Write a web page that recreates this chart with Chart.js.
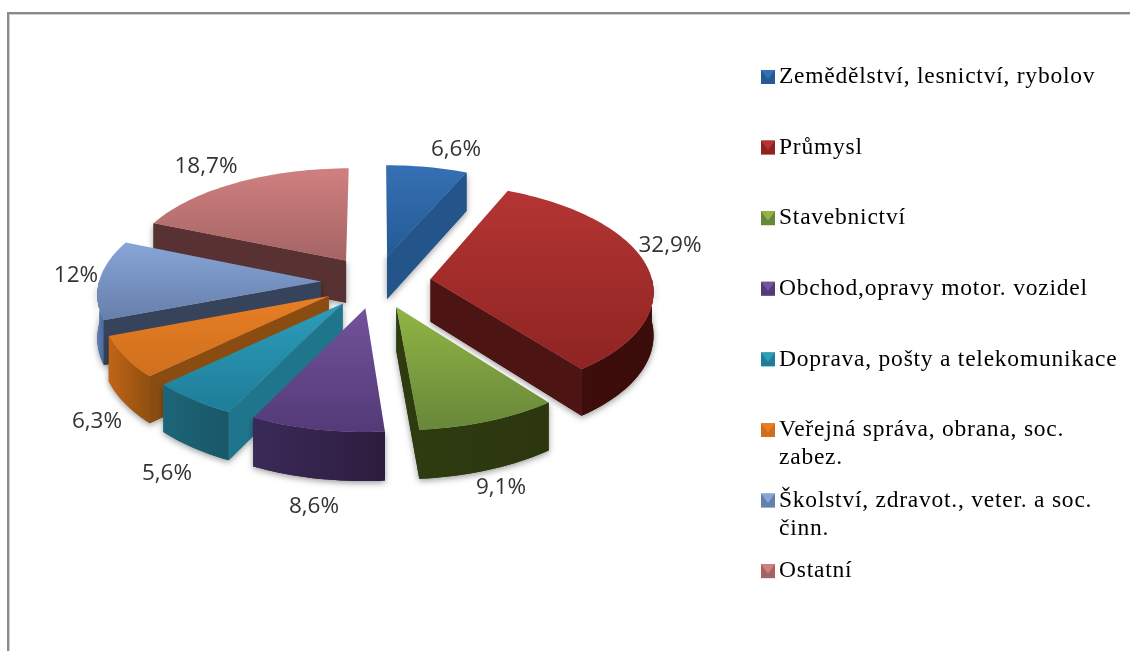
<!DOCTYPE html>
<html><head><meta charset="utf-8">
<script src="https://cdn.jsdelivr.net/npm/chart.js@4/dist/chart.umd.js"></script>
<style>
html,body{margin:0;padding:0;background:#fff;overflow:hidden}
#wrap{position:relative;width:1130px;height:651px}
#f1{position:absolute;left:7px;top:12px;right:0;bottom:0;border-left:2px solid #8a8a8a;border-top:2px solid #8a8a8a}
#f2{position:absolute;left:9px;top:14px;right:0;bottom:0;border-left:1px solid #cfcfcf;border-top:1px solid #cfcfcf}
canvas{position:absolute;left:0;top:0}
</style></head><body>
<div id="wrap"><div id="f1"></div><div id="f2"></div><canvas id="c" width="1130" height="651"></canvas></div>
<script>
const categories = [
  "Zemědělství, lesnictví, rybolov",
  "Průmysl",
  "Stavebnictví",
  "Obchod,opravy motor. vozidel",
  "Doprava, pošty a telekomunikace",
  ["Veřejná správa, obrana, soc.", "zabez."],
  ["Školství, zdravot., veter. a soc.", "činn."],
  "Ostatní"
];
const shares = [6.6, 32.9, 9.1, 8.6, 5.6, 6.3, 12, 18.7];

// styles
const topLight = ["#3570b4","#b43533","#90b544","#72529a","#2c9dbb","#e87f24","#87a5d8","#d08080"];
const topDark  = ["#255a94","#8e2422","#68873a","#543a78","#1f7d98","#cf6f1e","#667fab","#a56464"];
const wallLeft = ["#1f4d80","#3c0d0b","#2e3a10","#3a2a58","#1c6679","#c26416","#5a80b8","#5a3434"];
const wallRight= ["#1f4d80","#3a0c0a","#2c3710","#2e1c3e","#1a5668","#8f5010","#4a6a9c","#5a3434"];
const cutColor = ["#23548a","#4c1412","#2e3a10","#2e1c3e","#1f758c","#8a4c10","#37435a","#583232"];
const labelAnchors = [[456,150],[670,246],[501,488],[314,507],[167,474],[97,422],[76,276],[206,167]];

// projection settings
const EXPLODE = 0.248, PERSP = 0.1, TILT = 0.4757, DEPTH = 43;

function fmt(v){ return String(v).replace('.', ',') + '%'; }

const pie3d = {
  id: 'pie3d',
  beforeDatasetsDraw(chart){
    const ctx = chart.ctx, arcs = chart.getDatasetMeta(0).data;
    const order = arcs.map((a,i)=>i).sort((p,q)=>
      Math.sin((arcs[p].startAngle+arcs[p].endAngle)/2) - Math.sin((arcs[q].startAngle+arcs[q].endAngle)/2));
    for (const i of order) {
      const a = arcs[i], R = a.outerRadius, m = (a.startAngle+a.endAngle)/2;
      const eu = EXPLODE*Math.cos(m), ev = EXPLODE*Math.sin(m);
      const P = (u,v,down)=>{ const k = 1/(1-PERSP*v);
        return [a.x + R*u*k, a.y + R*TILT*v*k + (down?DEPTH*k:0)]; };
      const onArc = (t,down)=>P(eu+Math.cos(t), ev+Math.sin(t), down);
      const apex = d=>P(eu,ev,d);
      const N = Math.max(4, Math.ceil((a.endAngle-a.startAngle)/0.03));
      const ts = []; for (let n=0;n<=N;n++) ts.push(a.startAngle+(a.endAngle-a.startAngle)*n/N);
      const poly = pts=>{ ctx.beginPath(); pts.forEach((p,n)=> n?ctx.lineTo(p[0],p[1]):ctx.moveTo(p[0],p[1])); ctx.closePath(); };
      const topPts = [apex(false), ...ts.map(t=>onArc(t,false))];
      const front = ts.filter(t=>Math.sin(t)>=-0.02);
      const wallPts = front.length>1 ? [...front.map(t=>onArc(t,false)), ...front.slice().reverse().map(t=>onArc(t,true))] : null;
      const cuts = [];
      if (Math.cos(a.startAngle)<0) cuts.push([apex(false),onArc(a.startAngle,false),onArc(a.startAngle,true),apex(true)]);
      if (Math.cos(a.endAngle)>0)   cuts.push([apex(false),onArc(a.endAngle,false),onArc(a.endAngle,true),apex(true)]);

      // soft shadow
      ctx.save();
      ctx.shadowColor='rgba(0,0,0,0.4)'; ctx.shadowBlur=6; ctx.shadowOffsetY=2; ctx.fillStyle=cutColor[i];
      if (wallPts){ poly(wallPts); ctx.fill(); }
      cuts.forEach(c=>{ poly(c); ctx.fill(); });
      ctx.restore();

      if (wallPts){
        const xs = wallPts.map(p=>p[0]);
        const g = ctx.createLinearGradient(Math.min(...xs),0,Math.max(...xs),0);
        g.addColorStop(0,wallLeft[i]); g.addColorStop(1,wallRight[i]);
        ctx.fillStyle=g; poly(wallPts); ctx.fill();
      }
      ctx.fillStyle=cutColor[i];
      cuts.forEach(c=>{ poly(c); ctx.fill(); });

      const ys = topPts.map(p=>p[1]);
      const g2 = ctx.createLinearGradient(0,Math.min(...ys),0,Math.max(...ys));
      g2.addColorStop(0,topLight[i]); g2.addColorStop(1,topDark[i]);
      ctx.fillStyle=g2; poly(topPts); ctx.fill();
    }
    return false;
  },
  afterDraw(chart){
    const ctx = chart.ctx;
    ctx.save();
    // data labels
    ctx.font = '22.5px "Open Sans"'; ctx.fillStyle='#333'; ctx.textAlign='center'; ctx.textBaseline='middle';
    shares.forEach((v,i)=>ctx.fillText(fmt(v), labelAnchors[i][0], labelAnchors[i][1]));
    // legend
    const lx=761, ly=77, step=70.6, size=14;
    ctx.textAlign='left'; ctx.font='23.5px "Liberation Serif"'; ctx.letterSpacing='0.77px'; ctx.fillStyle='#000';
    categories.forEach((c,i)=>{
      const y = ly+step*i;
      ctx.fillStyle=topDark[i]; ctx.fillRect(lx,y-size/2,size,size);
      ctx.fillStyle=topLight[i]; ctx.beginPath(); ctx.moveTo(lx,y-size/2); ctx.lineTo(lx+size,y-size/2); ctx.lineTo(lx+size/2,y+size/6); ctx.closePath(); ctx.fill();
      ctx.fillStyle='#000';
      (Array.isArray(c)?c:[c]).forEach((t,n)=>ctx.fillText(t,lx+18,y+n*28));
    });
    ctx.restore();
  }
};

new Chart(document.getElementById('c'),{
  type:'pie',
  data:{labels:categories,datasets:[{data:shares,backgroundColor:topLight,borderWidth:0}]},
  options:{
    responsive:false,animation:false,radius:222,
    layout:{padding:{left:0,top:0,right:378,bottom:87}},
    plugins:{legend:{display:false},tooltip:{enabled:false},title:{display:false}}
  },
  plugins:[pie3d]
});
</script>
</body></html>
